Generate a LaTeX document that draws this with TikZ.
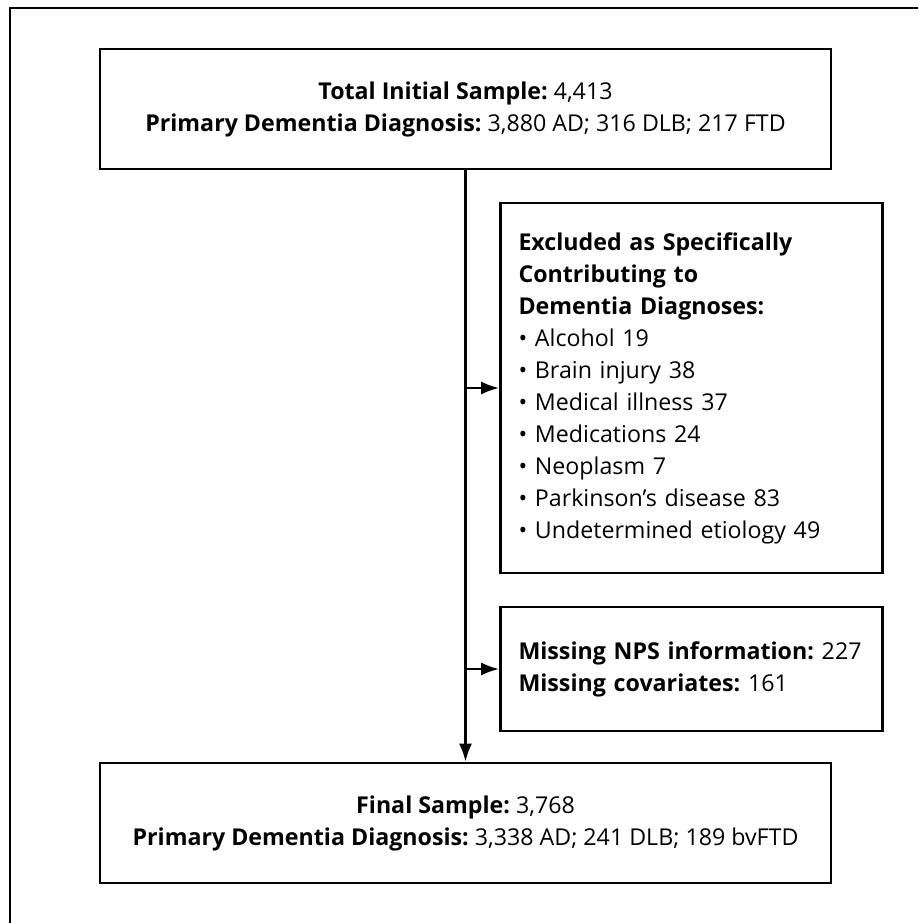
\documentclass[tikz,border=0pt]{standalone}
\usepackage{fontspec}
\setmainfont{Open Sans}
\usepackage{tikz}
\usetikzlibrary{arrows.meta,positioning}
\tikzstyle{arrow} = [line width=1.3pt,-{Latex[length=9pt,width=6.5pt]}]
\frenchspacing

\begin{document}
\begin{tikzpicture}[x=0.5pt,y=-0.5pt,
    box/.style={draw, line width=1.3pt, inner sep=0pt, font=\fontsize{11.6}{16}\selectfont},
    wide/.style={box, minimum width=365.5pt, minimum height=60pt, align=center},
    side/.style={box, text width=173pt, inner xsep=9pt, align=left}
]
\useasboundingbox (0,0) rectangle (918,923);
% outer frame, cut by the page edge
\draw[line width=1.4pt] (10,923) -- (10,8) -- (918,8);

% main flow
\node[wide] (initial) at (465.5,109) {\textbf{Total Initial Sample:} 4,413\\
    \textbf{Primary Dementia Diagnosis:} 3,880 AD; 316 DLB; 217 FTD};
\node[wide] (final) at (465.5,823) {\textbf{Final Sample:} 3,768\\
    \textbf{Primary Dementia Diagnosis:} 3,338 AD; 241 DLB; 189 bvFTD};

% exclusions
\node[side, minimum height=185pt] (excluded) at (691.5,388) {\textbf{Excluded as Specifically}\\
    \textbf{Contributing to}\\
    \textbf{Dementia Diagnoses:}\\
    \textbullet\ Alcohol 19\\
    \textbullet\ Brain injury 38\\
    \textbullet\ Medical illness 37\\
    \textbullet\ Medications 24\\
    \textbullet\ Neoplasm 7\\
    \textbullet\ Parkinson’s disease 83\\
    \textbullet\ Undetermined etiology 49};
\node[side, minimum height=62pt] (missing) at (691.5,669) {\textbf{Missing NPS information:} 227\\
    \textbf{Missing covariates:} 161};

\draw[arrow] (initial) -- (final);
\draw[arrow] (initial.south |- excluded.west) -- (excluded.west);
\draw[arrow] (initial.south |- missing.west) -- (missing.west);
\end{tikzpicture}
\end{document}
